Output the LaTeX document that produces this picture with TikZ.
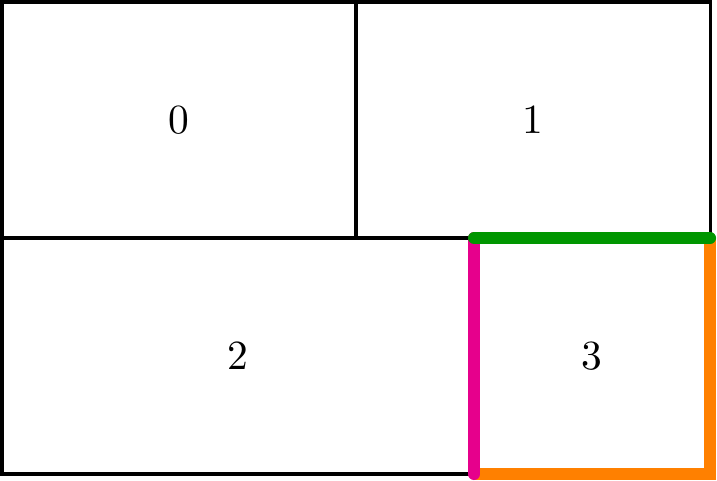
\documentclass[tikz,border=0pt]{standalone}
\definecolor{mygreen}{RGB}{0,150,0}
\definecolor{mypink}{RGB}{230,0,140}
\definecolor{myorange}{RGB}{255,128,0}
\begin{document}
\begin{tikzpicture}[
  cellbox/.style={draw=black, line width=0.75pt},
  edge/.style={line width=2.9pt},
  lbl/.style={font=\normalsize}
]
\useasboundingbox (-0.017,-0.059) rectangle (6.059,4.017);
\coordinate (a) at (4,2);
\coordinate (b) at (6,2);
\coordinate (c) at (6,0);
\coordinate (d) at (4,0);
\draw[cellbox] (0,0) rectangle (6,4);
\draw[cellbox] (0,2) -- (6,2);
\draw[cellbox] (3,2) -- (3,4);
\node[lbl] (n0) at (1.5,3) {0};
\node[lbl] (n1) at (4.5,3) {1};
\node[lbl] (n2) at (2,1) {2};
\node[lbl] (n3) at (5,1) {3};
\draw[edge, myorange, line join=miter] (b) -- (c) -- (d);
\draw[edge, mypink, line cap=round] (a) -- (d);
\draw[edge, mygreen, line cap=round] (a) -- (b);
\end{tikzpicture}
\end{document}
